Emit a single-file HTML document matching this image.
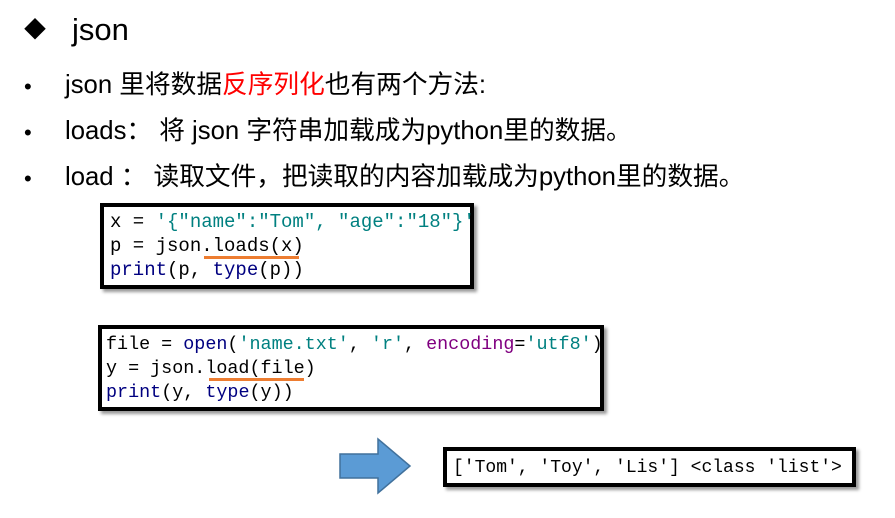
<!DOCTYPE html>
<html><head><meta charset="utf-8"><style>
body{margin:0;width:895px;height:518px;background:#fff;position:relative;overflow:hidden;font-family:"Liberation Sans","Noto Sans CJK SC",sans-serif;color:#000}
.t{position:absolute;white-space:nowrap;line-height:1}
.box{position:absolute;border:4px solid #000;background:#fff;box-shadow:3px 3px 3px #999;font-family:"Liberation Mono",monospace;white-space:pre;color:#000}
.s{color:#008080}.k{color:#000080}.p{color:#800080}
.u{position:absolute;height:3px;background:#ed7d31}
</style></head><body>
<div class="t" style="left:24px;top:19px;font-size:22px">◆</div>
<div class="t" style="left:72px;top:14px;font-size:31px">json</div>
<div class="t" style="left:24px;top:76px;font-size:22px">•</div>
<div class="t" style="left:65px;top:73px;font-size:25.7px">json 里将数据<span style="color:#f00">反序列化</span>也有两个方法:</div>
<div class="t" style="left:24px;top:122px;font-size:22px">•</div>
<div class="t" style="left:65px;top:119px;font-size:25.7px">loads： 将 json 字符串加载成为python里的数据。</div>
<div class="t" style="left:24px;top:168px;font-size:22px">•</div>
<div class="t" style="left:65px;top:165px;font-size:25.7px">load ： 读取文件，把读取的内容加载成为python里的数据。</div>

<div class="box" style="left:100px;top:203px;width:374px;height:86px;box-sizing:border-box;font-size:19px;line-height:24px;padding:3px 0 0 6px">x = <span class="s">'{"name":"Tom", "age":"18"}'</span>
p = json.loads(x)
<span class="k">print</span>(p, <span class="k">type</span>(p))</div>
<div class="u" style="left:204px;top:256px;width:95px"></div>

<div class="box" style="left:98px;top:325px;width:506px;height:86px;box-sizing:border-box;font-size:18.4px;line-height:24px;padding:4px 0 0 4px">file = <span class="k">open</span>(<span class="s">'name.txt'</span>, <span class="s">'r'</span>, <span class="p">encoding</span>=<span class="s">'utf8'</span>)
y = json.load(file)
<span class="k">print</span>(y, <span class="k">type</span>(y))</div>
<div class="u" style="left:209px;top:378px;width:95px"></div>

<svg style="position:absolute;left:338px;top:437px" width="75" height="60"><polygon points="2,17 40,17 40,2 72,29 40,56 40,41 2,41" fill="#5b9bd5" stroke="#41719c" stroke-width="1.5"/></svg>

<div class="box" style="left:443px;top:447px;width:413px;height:40px;box-sizing:border-box;font-size:18px;line-height:34px;padding:0 0 0 6px">['Tom', 'Toy', 'Lis'] &lt;class 'list'&gt;</div>
</body></html>
